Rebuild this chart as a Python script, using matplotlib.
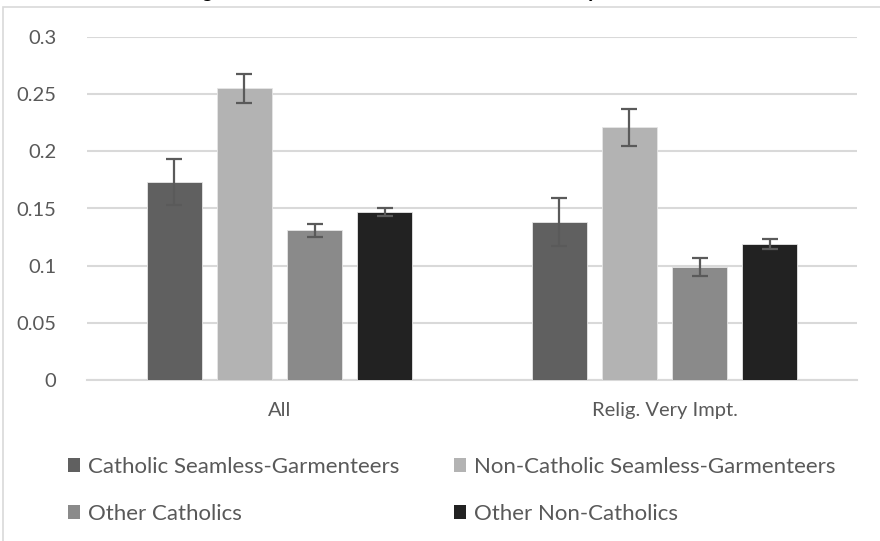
import matplotlib
matplotlib.use("Agg")
import matplotlib.pyplot as plt
from matplotlib.patches import Rectangle, Patch
import numpy as np

categories = ["All", "Relig. Very Impt."]
series_names = ["Catholic Seamless-Garmenteers", "Non-Catholic Seamless-Garmenteers",
                "Other Catholics", "Other Non-Catholics"]
values_cat_sg = [0.173, 0.138]
values_noncat_sg = [0.255, 0.221]
values_other_cat = [0.131, 0.099]
values_other_noncat = [0.147, 0.119]
err_cat_sg = [0.020, 0.021]
err_noncat_sg = [0.013, 0.016]
err_other_cat = [0.0055, 0.0078]
err_other_noncat = [0.0037, 0.0046]
yticks = [0, 0.05, 0.1, 0.15, 0.2, 0.25, 0.3]
ytick_labels = ["0", "0.05", "0.1", "0.15", "0.2", "0.25", "0.3"]
title = "Figure 3: Predicted Probabilities of Infidelity Incidence"

colors = ["#606060", "#b3b3b3", "#8a8a8a", "#222222"]
font = "Lato"
plt.rcParams['font.family'] = [font, 'DejaVu Sans']

W, H = 880, 541
fig = plt.figure(figsize=(W / 100, H / 100), dpi=100)

# chart area border (cropped)
fig.patches.append(Rectangle((3 / W, -0.1), 1.2, 1 - 7 / H + 0.1, transform=fig.transFigure,
                             facecolor="none", edgecolor="#d9d9d9", linewidth=1.2))

ax = fig.add_axes([87 / W, 1 - 380 / H, (857 - 87) / W, (380 - 37) / H])
series = [values_cat_sg, values_noncat_sg, values_other_cat, values_other_noncat]
errs = [err_cat_sg, err_noncat_sg, err_other_cat, err_other_noncat]
x = np.arange(len(categories))
bw = 0.143
step = 0.182
for i, (vals, e) in enumerate(zip(series, errs)):
    pos = x + (i - 1.5) * step
    ax.bar(pos, vals, width=bw, color=colors[i], edgecolor="#e6e6e6", linewidth=0.6, zorder=3)
    ax.errorbar(pos, vals, yerr=e, fmt="none", ecolor="#5a5a5a", elinewidth=1.6,
                capsize=6, capthick=1.6, zorder=4)

ax.set_xlim(-0.5, 1.5)
ax.set_ylim(0, 0.3)
ax.set_yticks(yticks)
ax.set_yticklabels(ytick_labels)
ax.set_xticks(x)
ax.set_xticklabels(categories)
ax.yaxis.grid(True, color="#d9d9d9", linewidth=1.5, zorder=0)
ax.set_axisbelow(True)
for s in ["top", "right", "left"]:
    ax.spines[s].set_visible(False)
ax.spines["bottom"].set_color("#d9d9d9")
ax.spines["bottom"].set_linewidth(1.5)
ax.tick_params(axis="both", length=0, colors="#595959", labelsize=14.5)
ax.tick_params(axis="y", pad=22)
ax.tick_params(axis="x", pad=16)

fig.text(0.5, 1 + 3 / H, title, ha="center", va="baseline", fontsize=16,
         fontweight="bold", fontstyle="italic", color="black")

handles = [Patch(facecolor=c, edgecolor="none") for c in colors]
order = [0, 2, 1, 3]
leg = fig.legend([handles[i] for i in order], [series_names[i] for i in order],
                 ncol=2, loc="upper left", bbox_to_anchor=(68 / W, 1 - 457 / H),
                 frameon=False, fontsize=16, handlelength=0.55, handleheight=0.55,
                 handletextpad=0.35, columnspacing=2.45, labelspacing=1.2, borderpad=0,
                 borderaxespad=0)
for t in leg.get_texts():
    t.set_color("#595959")

fig.savefig("out.png", dpi=100)
